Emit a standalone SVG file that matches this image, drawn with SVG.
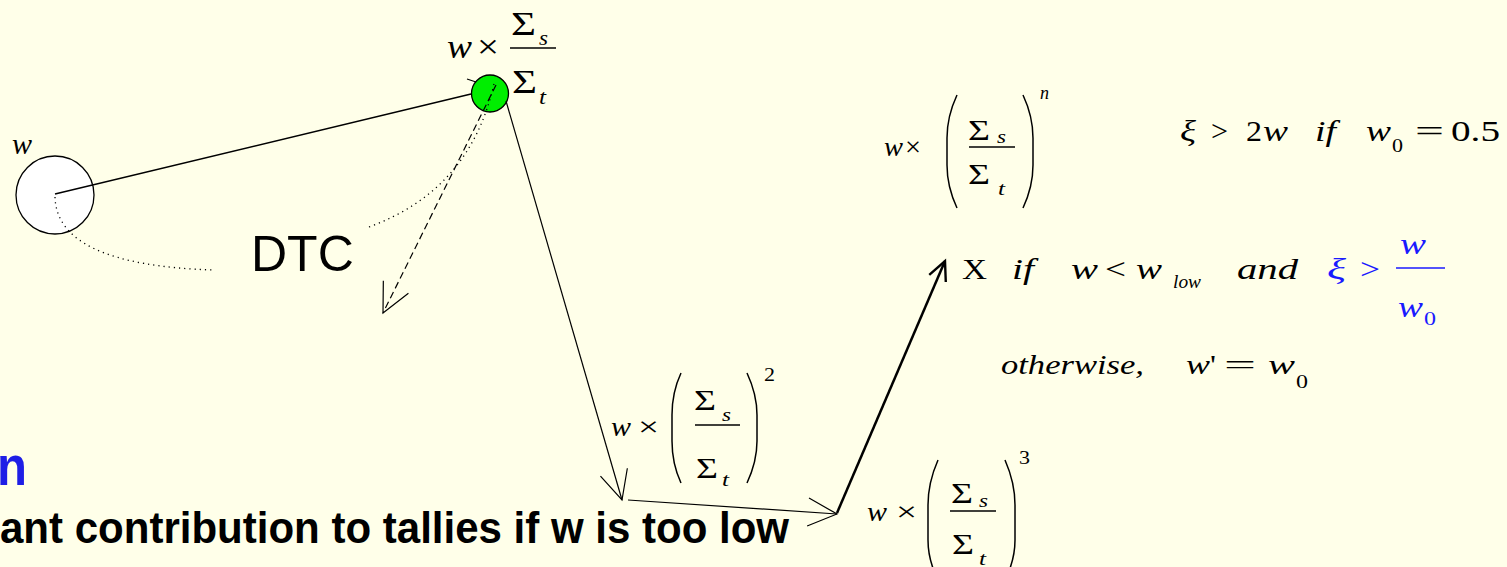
<svg xmlns="http://www.w3.org/2000/svg" width="1507" height="567" viewBox="0 0 1507 567">
<style>
.m{font-family:"Liberation Serif","Times New Roman",serif;fill:#000}
.i{font-style:italic}
.b{fill:#1a1aff}
.sans{font-family:"Liberation Sans",Arial,sans-serif;fill:#000}
.ln{stroke:#000;fill:none}
.fr{stroke:#000;stroke-width:1.3;fill:none}
.par{stroke:#000;stroke-width:1.5;fill:none}
.dot{stroke:#000;stroke-width:1.3;fill:none;stroke-dasharray:1.2 4}
</style>
<defs>
<marker id="open" markerUnits="userSpaceOnUse" viewBox="-36 -20 40 40" markerWidth="40" markerHeight="40" refX="0" refY="0" orient="auto" overflow="visible">
<path d="M-29,-14 L0,0 L-29,14" fill="none" stroke="#000" stroke-width="1.2"/>
</marker>
<marker id="openThick" markerUnits="userSpaceOnUse" viewBox="-24 -12 28 24" markerWidth="28" markerHeight="24" refX="0" refY="0" orient="auto" overflow="visible">
<path d="M-19,-9 L0,0 L-19,9" fill="none" stroke="#000" stroke-width="2.4"/>
</marker>
</defs>
<rect x="0" y="0" width="1507" height="567" fill="#FFFFE9"/>

<g id="node-start">
<circle cx="55" cy="195" r="39" fill="#FFFFFF" stroke="#000" stroke-width="1.3"/>
<text class="m i" x="12" y="154" font-size="30">w</text>
</g>

<g id="node-collision">
<circle cx="490" cy="93.5" r="18.5" fill="#00EE00" stroke="#000" stroke-width="1.3"/>
<g id="label-collision">
<text class="m i" x="447" y="58" font-size="33" textLength="25" lengthAdjust="spacingAndGlyphs">w</text>
<text class="m" x="477" y="58" font-size="33" textLength="22" lengthAdjust="spacingAndGlyphs">×</text>
<text class="m" x="511" y="35" font-size="33" textLength="25" lengthAdjust="spacingAndGlyphs">Σ</text>
<text class="m i" x="539" y="45" font-size="20" textLength="9" lengthAdjust="spacingAndGlyphs">s</text>
<line class="fr" x1="510" y1="48" x2="556" y2="48"/>
<text class="m" x="512" y="93" font-size="33" textLength="25" lengthAdjust="spacingAndGlyphs">Σ</text>
<text class="m i" x="539" y="104" font-size="20" textLength="7" lengthAdjust="spacingAndGlyphs">t</text>
</g>
</g>

<g id="node-dtc">
<text class="sans" x="251" y="271" font-size="50">DTC</text>
</g>

<g id="node-wn">
<text class="m i" x="884" y="156" font-size="28" textLength="19" lengthAdjust="spacingAndGlyphs">w</text>
<text class="m" x="905" y="156" font-size="28" textLength="16" lengthAdjust="spacingAndGlyphs">×</text>
<path class="par" d="M957,95 C950,110 947,125 947,138 L947,165 C947,178 950,193 957,208"/>
<text class="m" x="968" y="140" font-size="30" textLength="22" lengthAdjust="spacingAndGlyphs">Σ</text>
<text class="m i" x="997" y="143" font-size="19" textLength="9" lengthAdjust="spacingAndGlyphs">s</text>
<line class="fr" x1="969" y1="147" x2="1015" y2="147"/>
<text class="m" x="968" y="184" font-size="30" textLength="22" lengthAdjust="spacingAndGlyphs">Σ</text>
<text class="m i" x="998" y="195" font-size="19" textLength="7" lengthAdjust="spacingAndGlyphs">t</text>
<path class="par" d="M1023,95 C1030,110 1033,125 1033,138 L1033,165 C1033,178 1030,193 1023,208"/>
<text class="m i" x="1040" y="99" font-size="19" textLength="9" lengthAdjust="spacingAndGlyphs">n</text>
</g>

<g id="node-cond1">
<text class="m i" x="1180" y="141" font-size="29" textLength="16" lengthAdjust="spacingAndGlyphs">ξ</text>
<text class="m" x="1211" y="141" font-size="29" textLength="17" lengthAdjust="spacingAndGlyphs">&gt;</text>
<text class="m" x="1246" y="141" font-size="29" textLength="16" lengthAdjust="spacingAndGlyphs">2</text>
<text class="m i" x="1263" y="141" font-size="29" textLength="25" lengthAdjust="spacingAndGlyphs">w</text>
<text class="m i" x="1315" y="141" font-size="29" textLength="21" lengthAdjust="spacingAndGlyphs">if</text>
<text class="m i" x="1366" y="141" font-size="29" textLength="25" lengthAdjust="spacingAndGlyphs">w</text>
<text class="m" x="1392" y="152" font-size="19" textLength="11" lengthAdjust="spacingAndGlyphs">0</text>
<text class="m" x="1415" y="141" font-size="29" textLength="29" lengthAdjust="spacingAndGlyphs">=</text>
<text class="m" x="1451" y="141" font-size="29" textLength="49" lengthAdjust="spacingAndGlyphs">0.5</text>
</g>

<g id="node-kill">
<text class="m" x="962" y="279" font-size="29" textLength="25" lengthAdjust="spacingAndGlyphs">X</text>
<text class="m i" x="1012" y="279" font-size="29" textLength="22" lengthAdjust="spacingAndGlyphs">if</text>
<text class="m i" x="1071" y="279" font-size="29" textLength="27" lengthAdjust="spacingAndGlyphs">w</text>
<text class="m" x="1105" y="279" font-size="29" textLength="21" lengthAdjust="spacingAndGlyphs">&lt;</text>
<text class="m i" x="1136" y="279" font-size="29" textLength="26" lengthAdjust="spacingAndGlyphs">w</text>
<text class="m i" x="1173" y="288" font-size="18" textLength="28" lengthAdjust="spacingAndGlyphs">low</text>
<text class="m i" x="1237" y="279" font-size="29" textLength="61" lengthAdjust="spacingAndGlyphs">and</text>
<text class="m i b" x="1327" y="279" font-size="29" textLength="19" lengthAdjust="spacingAndGlyphs">ξ</text>
<text class="m b" x="1360" y="279" font-size="29" textLength="20" lengthAdjust="spacingAndGlyphs">&gt;</text>
<text class="m i b" x="1400" y="254" font-size="29" textLength="26" lengthAdjust="spacingAndGlyphs">w</text>
<line x1="1396" y1="268" x2="1445" y2="268" stroke="#1a1aff" stroke-width="1.3"/>
<text class="m i b" x="1398" y="317" font-size="29" textLength="25" lengthAdjust="spacingAndGlyphs">w</text>
<text class="m b" x="1424" y="325" font-size="19" textLength="12" lengthAdjust="spacingAndGlyphs">0</text>
</g>

<g id="node-otherwise">
<text class="m i" x="1001" y="374" font-size="28" textLength="143" lengthAdjust="spacingAndGlyphs">otherwise,</text>
<text class="m i" x="1186" y="374" font-size="28" textLength="24" lengthAdjust="spacingAndGlyphs">w</text>
<text class="m" x="1210" y="374" font-size="28" textLength="6" lengthAdjust="spacingAndGlyphs">'</text>
<text class="m" x="1224" y="374" font-size="28" textLength="32" lengthAdjust="spacingAndGlyphs">=</text>
<text class="m i" x="1268" y="374" font-size="28" textLength="27" lengthAdjust="spacingAndGlyphs">w</text>
<text class="m" x="1296" y="388" font-size="18" textLength="12" lengthAdjust="spacingAndGlyphs">0</text>
</g>

<g id="node-w2">
<text class="m i" x="611" y="436" font-size="28" textLength="20" lengthAdjust="spacingAndGlyphs">w</text>
<text class="m" x="638" y="436" font-size="28" textLength="21" lengthAdjust="spacingAndGlyphs">×</text>
<path class="par" d="M681,373 C674,388 672,402 672,415 L672,441 C672,454 674,468 681,483"/>
<text class="m" x="694" y="410" font-size="30" textLength="22" lengthAdjust="spacingAndGlyphs">Σ</text>
<text class="m i" x="722" y="421" font-size="19" textLength="9" lengthAdjust="spacingAndGlyphs">s</text>
<line class="fr" x1="695" y1="425" x2="740" y2="425"/>
<text class="m" x="696" y="478" font-size="30" textLength="22" lengthAdjust="spacingAndGlyphs">Σ</text>
<text class="m i" x="722" y="486" font-size="19" textLength="7" lengthAdjust="spacingAndGlyphs">t</text>
<path class="par" d="M747,373 C754,388 757,402 757,415 L757,441 C757,454 754,468 747,483"/>
<text class="m" x="764" y="381" font-size="19" textLength="11" lengthAdjust="spacingAndGlyphs">2</text>
</g>

<g id="node-w3">
<text class="m i" x="867" y="521" font-size="28" textLength="20" lengthAdjust="spacingAndGlyphs">w</text>
<text class="m" x="896" y="521" font-size="28" textLength="21" lengthAdjust="spacingAndGlyphs">×</text>
<path class="par" d="M938,460 C931,476 928,492 928,505 L928,540 C928,553 931,566 938,580"/>
<text class="m" x="951" y="503" font-size="30" textLength="22" lengthAdjust="spacingAndGlyphs">Σ</text>
<text class="m i" x="979" y="507" font-size="19" textLength="9" lengthAdjust="spacingAndGlyphs">s</text>
<line class="fr" x1="950" y1="511" x2="996" y2="511"/>
<text class="m" x="952" y="554" font-size="30" textLength="22" lengthAdjust="spacingAndGlyphs">Σ</text>
<text class="m i" x="979" y="565" font-size="19" textLength="7" lengthAdjust="spacingAndGlyphs">t</text>
<path class="par" d="M1005,460 C1012,476 1015,492 1015,505 L1015,540 C1015,553 1012,566 1005,580"/>
<text class="m" x="1019" y="464" font-size="19" textLength="11" lengthAdjust="spacingAndGlyphs">3</text>
</g>

<g id="node-text">
<text class="sans" x="-3" y="485" font-size="56" font-weight="bold" textLength="30" lengthAdjust="spacingAndGlyphs" style="fill:#1e1ee6">n</text>
<text class="sans" x="0" y="543" font-size="44" font-weight="bold" textLength="789" lengthAdjust="spacingAndGlyphs">ant contribution to tallies if w is too low</text>
</g>

<g id="connectors">
<line class="ln" x1="55" y1="194" x2="471" y2="94" stroke-width="1.5"/>
<line class="ln" x1="467" y1="79" x2="476" y2="82" stroke-width="1.3"/>
<path class="dot" d="M55,197 Q57,265 213,270"/>
<path class="dot" d="M369,227 Q470,190 494,84"/>
<line class="ln" x1="496" y1="85" x2="383" y2="313" stroke-width="1.2" stroke-dasharray="7 4" marker-end="url(#open)"/>
<line class="ln" x1="506" y1="101" x2="622" y2="500" stroke-width="1.2" marker-end="url(#open)"/>
<line class="ln" x1="628" y1="500" x2="837" y2="514" stroke-width="1.2" marker-end="url(#open)"/>
<line class="ln" x1="837" y1="513" x2="945" y2="261" stroke-width="2.5" marker-end="url(#openThick)"/>
</g>
</svg>
